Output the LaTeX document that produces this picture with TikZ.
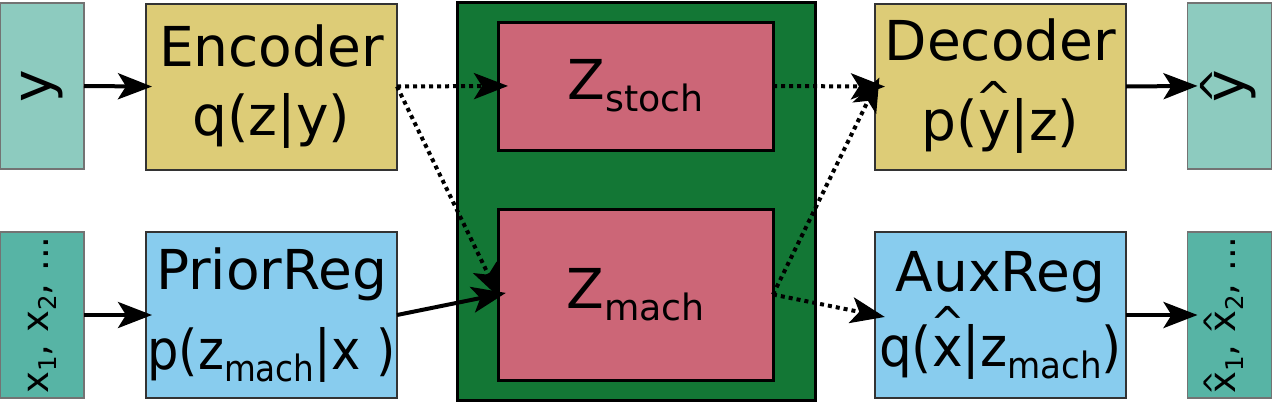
\documentclass[tikz,border=0pt]{standalone}
\usepackage{fontspec}
\setmainfont{DejaVu Sans}
\usetikzlibrary{arrows.meta}
\definecolor{tealpale}{HTML}{8DCBBF}
\definecolor{tealmid}{HTML}{57B4A5}
\definecolor{sand}{HTML}{DDCC77}
\definecolor{skyblue}{HTML}{88CCEE}
\definecolor{forest}{HTML}{137735}
\definecolor{rose}{HTML}{CC6677}
\newcommand\lowsub[1]{\raisebox{-0.22em}{\scalebox{0.66}{#1}}}
\newcommand\tallhat[2][0.5em]{\ooalign{#2\cr\hidewidth\raisebox{#1}{\scalebox{0.8}{\textasciicircum}}\hidewidth\cr}}

\begin{document}
\begin{tikzpicture}[x=0.5pt, y=-0.5pt,
  every node/.style={inner sep=0pt, outer sep=0pt},
  datbox/.style={draw=black!55, line width=0.75pt, minimum width=42pt, minimum height=83pt,
    font=\fontsize{27.5}{34.5}\selectfont},
  netbox/.style={draw=black!80, line width=1pt, minimum width=125.5pt, minimum height=83pt,
    align=center, font=\fontsize{27.5}{34.5}\selectfont},
  latbox/.style={draw=black, line width=1.5pt, fill=rose, minimum width=137.5pt,
    font=\fontsize{27.5}{34.5}\selectfont},
  flow/.style={-{Stealth[length=17pt, width=13pt, inset=4pt]}, line width=2pt},
  sample/.style={flow, dash pattern=on 2pt off 2pt}]
\useasboundingbox (0,0) rectangle (1272,402);
% inputs and networks, left
\node[datbox, fill=tealpale] (yin) at (42,86) {\rotatebox{90}{y}};
\node[datbox, fill=tealmid] (xin) at (42,315)
  {\rotatebox{90}{\fontsize{18.5}{20}\selectfont x\lowsub{1}, x\lowsub{2}, ...}};
\node[netbox, fill=sand] (enc) at (271.5,86.5) {Encoder\\q(z|y)};
\node[netbox, fill=skyblue] (prior) at (271.5,315)
  {PriorReg\\[5.5pt]\scalebox{0.9}[1]{p(z\lowsub{mach}|x )}};
% latent space
\node[draw=black, line width=1.5pt, fill=forest, minimum width=179pt, minimum height=199pt]
  (latent) at (636,201) {};
\node[latbox, minimum height=64pt] (zs) at (635.5,86) {Z\lowsub{stoch}};
\node[latbox, minimum height=85.5pt] (zm) at (635.5,294.5) {Z\lowsub{mach}};
% networks and outputs, right
\node[netbox, fill=sand] (dec) at (1000.5,86.5) {Decoder\\[5.5pt]p(\tallhat{y}|z)};
\node[netbox, fill=skyblue] (aux) at (1000.5,315)
  {AuxReg\\[3pt]\scalebox{0.94}[1]{q(\tallhat{x}|z\lowsub{mach})}};
\node[datbox, fill=tealpale] (yout) at (1229.5,86) {\rotatebox{90}{\tallhat[0.22em]{y}}};
\node[datbox, fill=tealmid] (xout) at (1229.5,315)
  {\rotatebox{90}{\fontsize{18.5}{20}\selectfont
    \tallhat[0.28em]{x}\lowsub{1}, \tallhat[0.28em]{x}\lowsub{2}, ...}};
% connectors
\draw[flow, shorten >=-3pt] (yin.east) -- (enc.west);
\draw[flow, shorten >=-3pt] (xin.east) -- (prior.west);
\draw[sample, shorten >=-5pt] (enc.east) -- (zs.west);
\draw[sample, shorten >=-2pt] (enc.east) -- (zm.west);
\draw[flow, shorten >=-4pt] (prior.east) -- (zm.west);
\draw[sample, shorten >=-5pt] (zs.east) -- (dec.west);
\draw[sample, shorten >=-5pt] (zm.east) -- (dec.west);
\draw[sample, shorten >=-5pt] (zm.east) -- (aux.west);
\draw[flow, shorten >=-5pt] (dec.east) -- (yout.west);
\draw[flow, shorten >=-5pt] (aux.east) -- (xout.west);
\end{tikzpicture}
\end{document}
